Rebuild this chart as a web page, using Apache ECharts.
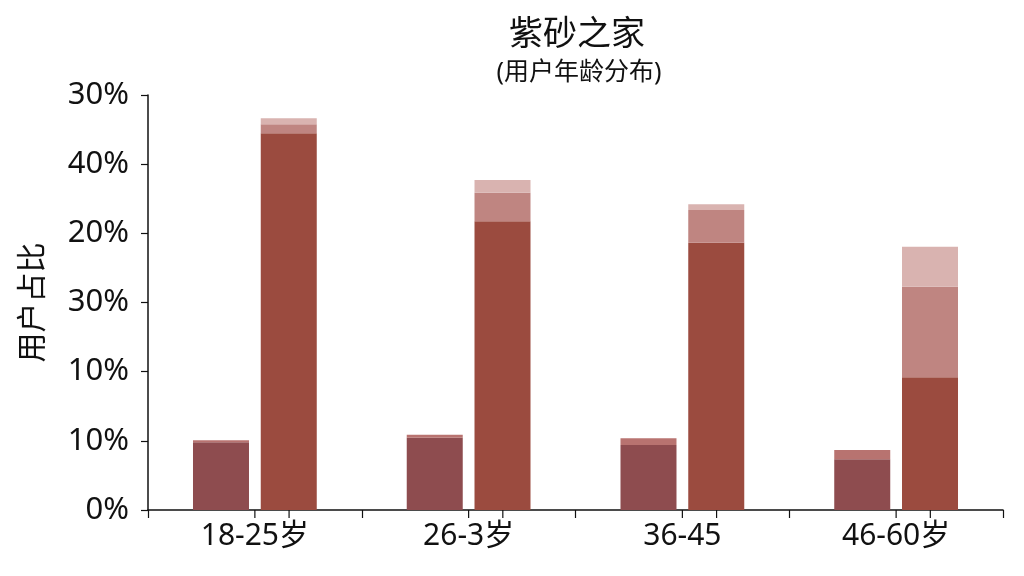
<!DOCTYPE html>
<html>
<head>
<meta charset="utf-8">
<script src="https://cdn.jsdelivr.net/npm/echarts@6/dist/echarts.min.js"></script>
<style>
html,body{margin:0;padding:0;background:#fff;}
#c{width:1024px;height:576px;}
</style>
</head>
<body>
<div id="c"></div>
<script>
const categories = ['18-25岁', '26-3岁', '36-45', '46-60岁'];
const yTickLabels = ['0%', '10%', '10%', '30%', '20%', '40%', '30%'];
const leftBase = [9.8, 10.45, 9.4, 7.33];
const leftTop = [0.3, 0.43, 0.97, 1.34];
const rightBase = [54.46, 41.74, 38.65, 19.18];
const rightMid = [1.3, 4.13, 4.73, 13.1];
const rightTop = [0.87, 1.84, 0.82, 5.78];

const FONT = '"Noto Sans", "Noto Sans CJK SC", sans-serif';
const chart = echarts.init(document.getElementById('c'));
const bw = 56;
function bar(name, data, stack, color) {
  return { name, type: 'bar', data, stack, barWidth: bw, barGap: '21%',
    itemStyle: { color }, emphasis: { disabled: true } };
}
const tickStyle = { color: '#111', width: 1.2 };
chart.setOption({
  backgroundColor: '#fff',
  animation: false,
  title: [
    { text: '紫砂之家', left: 572, top: 13, textAlign: 'center',
      textStyle: { fontFamily: FONT, fontSize: 34, fontWeight: 'normal', color: '#111' } },
    { text: '(用户年龄分布)', left: 574, top: 55, textAlign: 'center',
      textStyle: { fontFamily: FONT, fontSize: 25, fontWeight: 'normal', color: '#111' } }
  ],
  grid: { left: 148, right: 21, top: 95, bottom: 66 },
  xAxis: {
    type: 'category', data: categories,
    axisLine: { onZero: false, lineStyle: { color: '#111', width: 1.5 } },
    axisTick: { show: true, length: 8, lineStyle: tickStyle },
    axisLabel: { fontFamily: FONT, fontSize: 30, color: '#111', margin: 11 }
  },
  yAxis: {
    type: 'value', min: 0, max: 60, interval: 10,
    name: '用户占比', nameLocation: 'middle', nameRotate: 90, nameGap: 100,
    nameTextStyle: { fontFamily: FONT, fontSize: 30, color: '#111' },
    axisLine: { show: true, lineStyle: { color: '#111', width: 1.5 } },
    axisTick: { show: true, length: 7, lineStyle: tickStyle },
    splitLine: { show: false },
    axisLabel: { fontFamily: FONT, fontSize: 31, color: '#111', margin: 19,
      formatter: v => yTickLabels[Math.round(v / 10)] }
  },
  series: [
    bar('l1', leftBase, 'L', '#8e4c4f'),
    bar('l2', leftTop, 'L', '#b87370'),
    bar('r1', rightBase, 'R', '#9b4b3f'),
    bar('r2', rightMid, 'R', '#bf8581'),
    bar('r3', rightTop, 'R', '#d9b3b0'),
    {
      type: 'custom', coordinateSystem: 'cartesian2d', xAxisIndex: 0, yAxisIndex: 0,
      silent: true, clip: false, z: 20,
      data: categories.map((c, i) => [i, 0]),
      renderItem: (params, api) => {
        const p = api.coord([api.value(0), 0]);
        const band = api.size([1, 0])[0];
        const off = band * 0.16;
        const mk = x => ({ type: 'rect', shape: { x: x - 0.6, y: p[1], width: 1.2, height: 8 },
          style: { fill: '#111' } });
        return { type: 'group', children: [mk(p[0]), mk(p[0] + off)] };
      }
    }
  ]
});
</script>
</body>
</html>
